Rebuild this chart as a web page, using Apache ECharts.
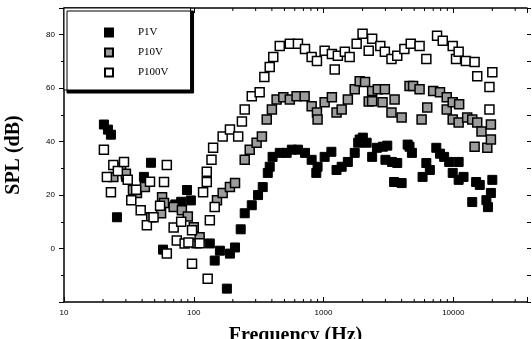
<!DOCTYPE html>
<html>
<head>
<meta charset="utf-8">
<script src="https://cdn.jsdelivr.net/npm/echarts@6/dist/echarts.min.js"></script>
<style>
  html, body { margin: 0; padding: 0; background: #fff; }
  #main { width: 532px; height: 339px; }
</style>
</head>
<body>
<div id="main"></div>
<script>
// values: frequency (Hz) and SPL (dB)
const seriesNames = ["P1V", "P10V", "P100V"];

const p1vFreq = [20.3, 21.8, 23, 25.6, 30, 41.3, 46.8, 58, 72, 80, 88.7, 95, 133, 145, 159, 180, 190, 208, 230,
  247, 280, 313, 340, 372, 385, 405, 460, 520, 570, 635, 720, 810, 880, 900, 1020, 1150, 1260, 1380, 1540,
  1740, 1850, 1900, 2010, 2150, 2370, 2580, 2870, 3000, 3100, 3370, 3500, 3700, 4000, 4450, 4600, 4800,
  5800, 6200, 6600, 7400, 7900, 8500, 9300, 9900, 11000, 11000, 12000, 14000, 15000, 16000, 18000, 18500,
  19500, 20000];
const p1vSpl = [46.4, 44.5, 42.6, 11.7, 26.8, 26.8, 32.1, -0.4, 16.5, 17.5, 21.9, 18, 1.9, -4.5, -0.8, -15, -1.9, 0.4, 7.2,
  13.2, 16.2, 20, 23, 28.3, 30.6, 34.3, 35.8, 35.8, 37, 37, 35.8, 33.2, 28.3, 30.6, 34.3, 36.2, 29.4, 30.6, 32.4,
  35.8, 39.6, 40.8, 41.5, 39.6, 34.3, 37.7, 38.1, 33.2, 38.5, 32.4, 24.9, 32, 24.5, 38.9, 38.1, 35.8,
  26.8, 32, 29.4, 37.7, 35.5, 34.3, 32.4, 28.3, 25.7, 32.4, 26.8, 17.4, 24.9, 23.8, 18.1, 15.5,
  20.8, 25.7];

const p10vFreq = [24, 27.5, 30, 34, 36.5, 42, 47, 56, 57, 59, 70, 81, 90, 100, 105, 111,
  151, 167, 190, 208, 247, 270, 305, 335, 365, 400, 435, 490, 550, 620, 715, 810, 890, 900, 1020, 1160,
  1260, 1380, 1540, 1740, 1900, 2090, 2230, 2370, 2370, 2620, 2850, 2970, 3340, 3530, 4000, 4600, 4900,
  5500, 5700, 6300, 7000, 7900, 8900, 8900, 9900, 9900, 11100, 11000, 12800, 14000, 14600, 15300, 16500,
  18300, 19500, 19500];
const p10vSpl = [26.8, 30.2, 28, 21.9, 20.8, 23, 11.7, 13.2, 19.2, 17, 15.5, 14.3, 12, 8, 2, 4.2,
  18.1, 20.8, 23, 24.5, 33.2, 37, 39.6, 41.9, 48.3, 52, 55.8, 56.6, 55.8, 57, 57, 53.2, 50.9, 48.3, 54.7, 56.6,
  50.9, 52, 55.8, 59.6, 62.6, 62.3, 55, 58.9, 55.1, 59.6, 54.7, 59.6, 50.9, 55.8, 49, 60.8, 60.8,
  59.6, 48.3, 52.8, 58.9, 58.5, 56.6, 52, 54.7, 48.3, 54, 47.2, 49, 48.3, 38.1, 47.2, 43.8,
  37.7, 46.4, 40.8];

const p100vFreq = [20.3, 21.4, 23, 24, 26, 29, 31, 33, 36, 39, 43.5, 46, 49, 55, 59, 62, 62, 70, 74, 80, 85, 91,
  97, 97, 111, 118, 126, 126, 128, 133, 137, 141, 145, 167, 190, 220, 235, 247, 280, 322, 350, 385, 410,
  460, 550, 635, 720, 810, 890, 1020, 1160, 1220, 1290, 1460, 1590, 1800, 2000, 2230, 2370, 2740, 2970,
  3340, 3700, 4200, 4700, 5500, 6200, 7500, 8300, 9900, 10500, 11000, 12500, 14600, 15300, 19000, 19000,
  20000];
const p100vSpl = [37, 26.8, 21.1, 31.3, 29, 32.4, 25.7, 18.1, 22, 14.3, 8.7, 25, 11.7, 16, 24.9, 31.3, -1.9, 7.9, 3, 10, 1.9, 2.3,
  6.8, -5.7, 2, 21.1, 24.9, 28.7, -11.3, 10.6, 33.2, 37.7, 15.5, 41.9, 44.5, 41.9, 47.5, 52, 57, 58.5, 64.2, 67.9, 71.7,
  75.8, 76.6, 76.6, 74.7, 71.7, 70.2, 74, 72.8, 67, 72.1, 73.6, 71.7, 76.6, 80.4, 74, 78.5, 75.8, 73.6,
  70.9, 72.1, 74.7, 76.6, 75.8, 70.9, 79.6, 77.7, 75.8, 70.9, 73.6, 70.2, 69.8, 64.5, 60.4, 52,
  66];

const yTicks = [0, 20, 40, 60, 80];
const xTicks = [10, 100, 1000, 10000];

// minor log ticks 20..90, 200..900, ...
const minorFreq = [];
[10, 100, 1000, 10000].forEach((d) => {
  for (let k = 2; k <= 9; k++) if (d * k < 37000) minorFreq.push(d * k);
});

const pairs = (xs, ys) => xs.map((x, i) => [x, ys[i]]);

const chart = echarts.init(document.getElementById("main"));
const serif = "Liberation Serif";
const sans = "Liberation Sans";

const xBase = {
  type: "log",
  logBase: 10,
  min: 10,
  max: 37000,
  axisLine: { onZero: false, lineStyle: { color: "#000", width: 1.5 } },
  splitLine: { show: false },
  minorTick: { show: false },
};

const minorTicks = (fromBottom) => ({
  type: "custom",
  silent: true,
  xAxisIndex: 0,
  yAxisIndex: 0,
  clip: false,
  data: minorFreq,
  renderItem: (params, api) => {
    const p = api.coord([api.value(0), fromBottom ? -20 : 90]);
    const dir = fromBottom ? -1 : 1;
    return {
      type: "line",
      shape: { x1: p[0], y1: p[1], x2: p[0], y2: p[1] + dir * 3 },
      style: { stroke: "#000", lineWidth: 1 },
    };
  },
});

chart.setOption({
  animation: false,
  backgroundColor: "#fff",
  grid: { left: 64, right: 5, top: 8, bottom: 37, containLabel: false, outerBoundsMode: "none" },
  legend: {
    orient: "vertical",
    left: 64,
    top: 8,
    padding: [19, 22, 12, 40],
    itemGap: 9,
    itemWidth: 8,
    itemHeight: 8,
    icon: "rect",
    backgroundColor: "#fff",
    borderColor: "#000",
    borderWidth: 1,
    shadowColor: "#000",
    shadowBlur: 0,
    shadowOffsetX: 3,
    shadowOffsetY: 3,
    textStyle: { fontFamily: serif, fontSize: 11, color: "#000", padding: [0, 0, 0, 20] },
    data: seriesNames,
  },
  xAxis: [
    Object.assign({}, xBase, {
      position: "bottom",
      name: "Frequency (Hz)",
      nameLocation: "middle",
      nameGap: 24,
      nameTextStyle: { fontFamily: serif, fontWeight: "bold", fontSize: 20, color: "#000" },
      axisTick: { inside: true, length: 5, lineStyle: { color: "#000" } },
      axisLabel: {
        fontFamily: sans, fontSize: 8, color: "#000", margin: 7,
        formatter: (v) => (xTicks.indexOf(Math.round(v)) >= 0 ? String(Math.round(v)) : ""),
      },
    }),
    Object.assign({}, xBase, {
      position: "top",
      axisTick: { inside: true, length: 5, lineStyle: { color: "#000" } },
      axisLabel: { show: false },
    }),
  ],
  yAxis: [
    {
      type: "value",
      min: -20,
      max: 90,
      interval: 20,
      name: "SPL (dB)",
      nameLocation: "middle",
      nameGap: 40,
      nameTextStyle: { fontFamily: serif, fontWeight: "bold", fontSize: 20, color: "#000" },
      axisLine: { show: true, onZero: false, lineStyle: { color: "#000", width: 1.5 } },
      axisTick: { inside: false, length: 5, lineStyle: { color: "#000" } },
      minorTick: { show: true, splitNumber: 2, length: 3, lineStyle: { color: "#000" } },
      splitLine: { show: false },
      axisLabel: {
        fontFamily: sans, fontSize: 8, color: "#000", margin: 9,
        formatter: (v) => (yTicks.indexOf(v) >= 0 ? String(v) : ""),
      },
    },
    {
      type: "value",
      position: "right",
      min: -20,
      max: 90,
      interval: 10,
      axisLine: { show: false, onZero: false },
      axisTick: { show: true, inside: false, length: 4, lineStyle: { color: "#000" } },
      axisLabel: { show: false },
      splitLine: { show: false },
    },
  ],
  series: [
    minorTicks(true),
    minorTicks(false),
    {
      name: "P1V", type: "scatter", symbol: "rect", symbolSize: 9,
      itemStyle: { color: "#000", borderColor: "#000", borderWidth: 1, opacity: 1 },
      data: pairs(p1vFreq, p1vSpl),
    },
    {
      name: "P10V", type: "scatter", symbol: "rect", symbolSize: 9,
      itemStyle: { color: "#9c9c9c", borderColor: "#000", borderWidth: 1.5, opacity: 1 },
      data: pairs(p10vFreq, p10vSpl),
    },
    {
      name: "P100V", type: "scatter", symbol: "rect", symbolSize: 9,
      itemStyle: { color: "#fff", borderColor: "#000", borderWidth: 1.5, opacity: 1 },
      data: pairs(p100vFreq, p100vSpl),
    },
  ],
});
</script>
</body>
</html>
